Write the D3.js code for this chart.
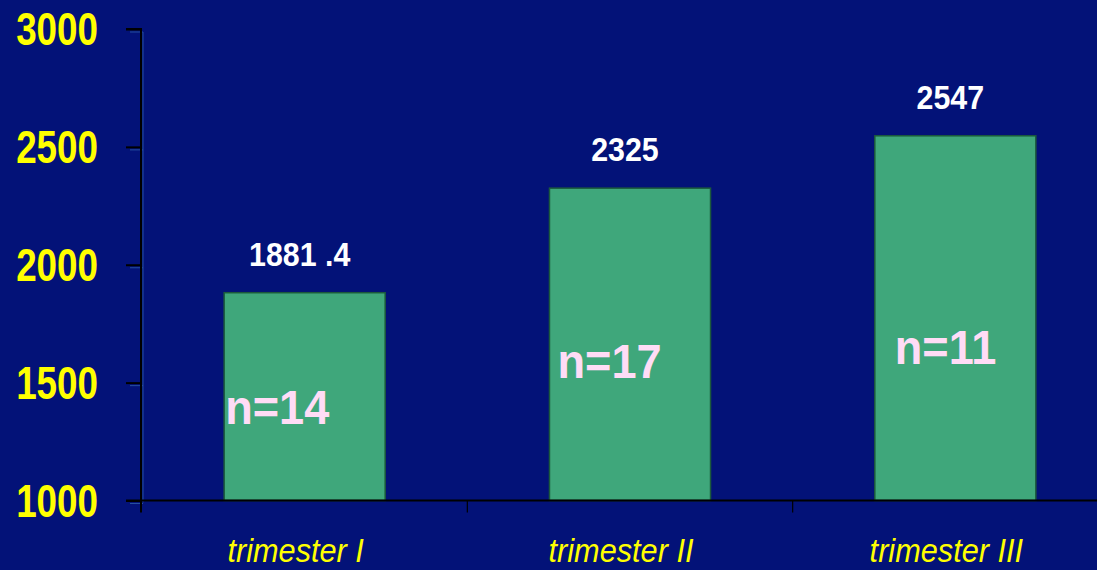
<!DOCTYPE html>
<html>
<head>
<meta charset="utf-8">
<script src="https://cdn.jsdelivr.net/npm/d3@7"></script>
<style>
  html, body { margin: 0; padding: 0; background: #031278; overflow: hidden; }
  svg { display: block; }
  text { font-family: "Liberation Sans", Arial, sans-serif; }
</style>
</head>
<body>
<svg id="chart" width="1097" height="570"></svg>
<script>
// Mean values per trimester
const categories = ["trimester I", "trimester II", "trimester III"];
const values = [1881.4, 2325, 2547];
const valueLabels = ["1881 .4", "2325", "2547"];
const sampleLabels = ["n=14", "n=17", "n=11"];
// where each sample-size note sits (value level of its baseline)
const sampleLevels = [1326, 1521, 1580];
const yTicks = [1000, 1500, 2000, 2500, 3000];

const W = 1097, H = 570;
const svg = d3.select("#chart");

svg.append("rect").attr("width", W).attr("height", H).attr("fill", "#031278");

const x = d3.scaleBand().domain(categories).range([142, 1118]).padding(0);
const y = d3.scaleLinear().domain([1000, 3000]).range([500.5, 29]);

const barW = x.bandwidth() * 0.495;
const cx = d => x(d) + x.bandwidth() / 2;

// faint highlight behind the axes
const shade = svg.append("g").attr("stroke", "#2f5fa8").attr("stroke-width", 1).attr("opacity", 0.8);
shade.append("line").attr("x1", 143).attr("x2", 143).attr("y1", y(3000) + 3).attr("y2", y(1000) + 2);
yTicks.forEach(t => {
  shade.append("line").attr("x1", 130).attr("x2", 143).attr("y1", y(t) + 3).attr("y2", y(t) + 3);
});

// bars
svg.append("g").selectAll("rect")
  .data(categories)
  .join("rect")
  .attr("x", d => cx(d) - barW / 2)
  .attr("y", (d, i) => y(values[i]))
  .attr("width", barW)
  .attr("height", (d, i) => y(1000) - y(values[i]))
  .attr("fill", "#3fa77b")
  .attr("stroke", "#1b5a3c")
  .attr("stroke-width", 1.5);

// y axis
const yAxis = d3.axisLeft(y).tickValues(yTicks).tickSize(15).tickFormat("");
const gy = svg.append("g").attr("transform", "translate(141,0)").call(yAxis);
gy.select(".domain").attr("stroke", "#000").attr("stroke-width", 2)
  .attr("d", `M-15,${y(3000)}H0V${y(1000) + 12}`);
gy.selectAll(".tick line").attr("stroke", "#000").attr("stroke-width", 2);

// x axis baseline with separators
const gx = svg.append("g");
gx.append("line").attr("x1", 126).attr("x2", W).attr("y1", y(1000)).attr("y2", y(1000))
  .attr("stroke", "#000").attr("stroke-width", 2);
[x(categories[1]), x(categories[2])].forEach(px => {
  gx.append("line").attr("x1", px).attr("x2", px).attr("y1", y(1000)).attr("y2", y(1000) + 12)
    .attr("stroke", "#000").attr("stroke-width", 1.2);
});

// y tick labels
svg.append("g").selectAll("text")
  .data(yTicks)
  .join("text")
  .attr("transform", d => `translate(98,${y(d) + 16}) scale(0.8,1)`)
  .attr("text-anchor", "end")
  .attr("font-size", 46)
  .attr("font-weight", "bold")
  .attr("fill", "#ffff00")
  .text(d => d);

// value labels above bars
svg.append("g").selectAll("text")
  .data(categories)
  .join("text")
  .attr("transform", (d, i) => `translate(${cx(d) - 5},${y(values[i]) - 27}) scale(0.92,1)`)
  .attr("text-anchor", "middle")
  .attr("font-size", 33)
  .attr("font-weight", "bold")
  .attr("fill", "#ffffff")
  .text((d, i) => valueLabels[i]);

// sample sizes inside bars
const nShift = [1, 8, 20];
svg.append("g").selectAll("text")
  .data(categories)
  .join("text")
  .attr("transform", (d, i) => `translate(${cx(d) - barW / 2 + nShift[i]},${y(sampleLevels[i])}) scale(0.94,1)`)
  .attr("text-anchor", "start")
  .attr("font-size", 48)
  .attr("font-weight", "bold")
  .attr("fill", "#ffdcf6")
  .text((d, i) => sampleLabels[i]);

// category labels
svg.append("g").selectAll("text")
  .data(categories)
  .join("text")
  .attr("transform", d => `translate(${cx(d) - 9},562) scale(0.93,1)`)
  .attr("text-anchor", "middle")
  .attr("font-size", 33)
  .attr("font-style", "italic")
  .attr("fill", "#ffff00")
  .text(d => d);
</script>
</body>
</html>
